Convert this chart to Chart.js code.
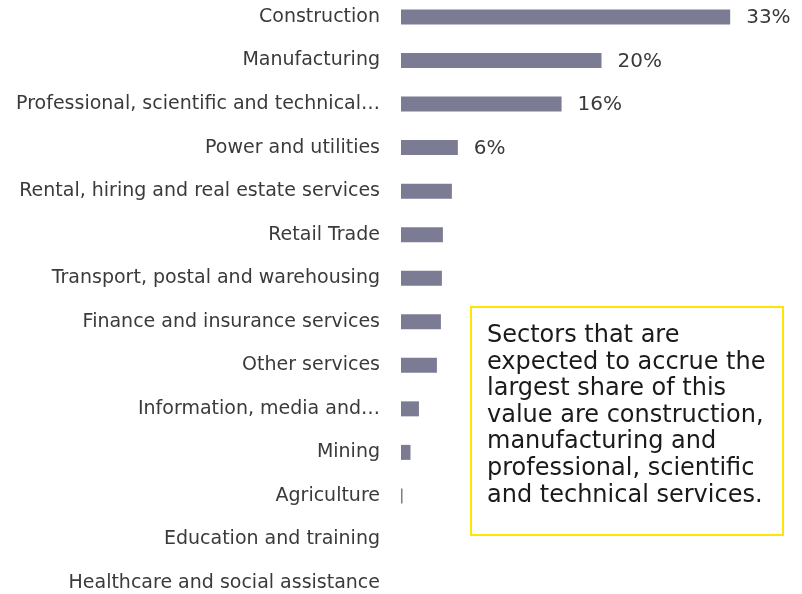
<!DOCTYPE html>
<html>
<head>
<meta charset="utf-8">
<script src="https://cdn.jsdelivr.net/npm/chart.js@4/dist/chart.umd.min.js"></script>
<style>
  html, body { margin: 0; padding: 0; background: #ffffff; }
  #wrap { position: relative; width: 802px; height: 594px; }
  #note {
    position: absolute; left: 470px; top: 306px; width: 310px; height: 226px;
    border: 2px solid #ffe600; box-sizing: content-box;
    font-family: "DejaVu Sans", sans-serif; font-size: 24px; line-height: 26.6px;
    color: #1a1a1a; padding: 0;
  }
  #note div { position: absolute; left: 15px; top: 13px; right: 4px; }
</style>
</head>
<body>
<div id="wrap">
  <canvas id="c" width="802" height="594"></canvas>
  <div id="note"><div>Sectors that are<br>expected to accrue the<br>largest share of this<br>value are construction,<br>manufacturing and<br>professional, scientific<br>and technical services.</div></div>
</div>
<script>
const categories = [
  "Construction",
  "Manufacturing",
  "Professional, scientific and technical…",
  "Power and utilities",
  "Rental, hiring and real estate services",
  "Retail Trade",
  "Transport, postal and warehousing",
  "Finance and insurance services",
  "Other services",
  "Information, media and…",
  "Mining",
  "Agriculture",
  "Education and training",
  "Healthcare and social assistance"
];
const shareValues = [33, 20.1, 16.1, 5.7, 5.1, 4.2, 4.1, 4.0, 3.6, 1.8, 0.95, 0.15, 0, 0];
const valueLabels = ["33%", "20%", "16%", "6%", "", "", "", "", "", "", "", "", "", ""];

const barLabelPlugin = {
  id: 'barLabels',
  afterDatasetsDraw(chart) {
    const ctx = chart.ctx;
    const meta = chart.getDatasetMeta(0);
    ctx.save();
    ctx.font = '20px "DejaVu Sans", sans-serif';
    ctx.fillStyle = '#3a3a3a';
    ctx.textAlign = 'left';
    ctx.textBaseline = 'middle';
    meta.data.forEach((bar, i) => {
      const t = valueLabels[i];
      if (t) ctx.fillText(t, bar.x + 16, bar.y + 1);
    });
    ctx.restore();
  }
};

new Chart(document.getElementById('c'), {
  type: 'bar',
  data: {
    labels: categories,
    datasets: [{
      data: shareValues,
      backgroundColor: '#7b7b93',
      borderWidth: 0,
      inflateAmount: 0,
      barThickness: 15,
      clip: false
    }]
  },
  options: {
    indexAxis: 'y',
    responsive: false,
    devicePixelRatio: 1,
    animation: false,
    layout: { padding: { top: 17, bottom: 11, left: 0, right: 2 } },
    plugins: { legend: { display: false }, tooltip: { enabled: false } },
    scales: {
      x: { display: false, min: 0, max: 40 },
      y: {
        type: 'category',
        offset: false,
        grid: { display: false, drawTicks: false },
        border: { display: false },
        ticks: {
          autoSkip: false,
          padding: 21,
          color: '#3a3a3a',
          font: { family: '"DejaVu Sans", sans-serif', size: 19 }
        },
        afterFit(scale) {
          scale.width = 401;
          scale.paddingTop = 0;
          scale.paddingBottom = 0;
        }
      }
    }
  },
  plugins: [barLabelPlugin]
});
</script>
</body>
</html>
